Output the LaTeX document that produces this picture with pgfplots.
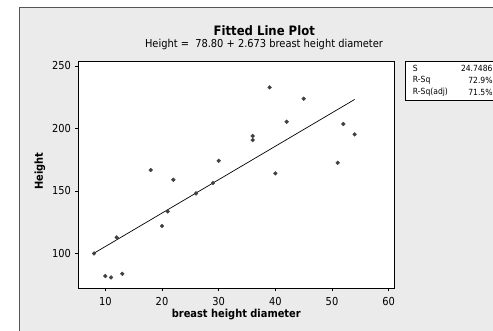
\documentclass[border=0pt]{standalone}
\usepackage{fontspec}
\setmainfont{DejaVu Sans Condensed}
\usepackage{pgfplots}
\pgfplotsset{compat=1.18}
\definecolor{bggrey}{HTML}{EBEBEB}
\definecolor{frame}{HTML}{555555}
\definecolor{ptc}{HTML}{404040}
\begin{document}
\begin{tikzpicture}
\begin{axis}[
  set layers,
  scale only axis, width=316bp, height=226.6bp,
  xmin=5.18, xmax=60.94, ymin=72, ymax=253.2,
  clip=false,
  xtick={10,20,30,40,50,60}, ytick={100,150,200,250},
  tick align=outside, xtick pos=bottom, ytick pos=left,
  major tick length=3bp,
  tick style={black,line width=0.6bp},
  axis line style={black,line width=0.9bp},
  tick label style={font=\fontsize{11}{13}\selectfont},
  /pgf/number format/assume math mode=true,
  xticklabel style={yshift=-2bp},
  yticklabel style={xshift=-0.5bp},
]
\pgfonlayer{axis background}
\fill[white] (axis cs:-8.59,38.67) rectangle (axis cs:78.41,302.67);
\fill[bggrey] (axis cs:-5.15,30) rectangle (axis cs:80,296.8);
\draw[frame,line width=0.9bp] (axis cs:-5.15,30) -- (axis cs:-5.15,296.8) -- (axis cs:80,296.8);
\fill[white] (axis cs:5.18,72) rectangle (axis cs:60.94,253.2);
\endpgfonlayer
\coordinate (BL) at (axis cs:-8.59,38.67);
\coordinate (TR) at (axis cs:78.41,302.67);
\node[font=\bfseries\fontsize{13}{15}\selectfont] at (axis cs:38.05,278.1) {Fitted Line Plot};
\node[font=\fontsize{11}{13}\selectfont] at (axis cs:38.0,266.7) {Height =\ \ 78.80 + 2.673 breast height diameter};
\node[font=\bfseries\fontsize{11}{13}\selectfont] at (axis cs:33.11,51.5) {breast height diameter};
\node[font=\bfseries\fontsize{11}{13}\selectfont,rotate=90] at (axis cs:-1.53,165.9) {Height};
\draw[black,line width=0.7bp,fill=white] (axis cs:63.0,253.3) rectangle (axis cs:81.4,222.7);
\node[anchor=west,font=\fontsize{8.5}{10}\selectfont] at (axis cs:63.67,248.3) {S};
\node[anchor=west,font=\fontsize{8.5}{10}\selectfont] at (axis cs:63.67,238.7) {R-Sq};
\node[anchor=west,font=\fontsize{8.5}{10}\selectfont] at (axis cs:63.67,228.8) {R-Sq(adj)};
\node[anchor=east,inner xsep=0pt,font=\fontsize{8.5}{10}\selectfont] at (axis cs:78.36,248.3) {24.7486};
\node[anchor=east,inner xsep=0pt,font=\fontsize{8.5}{10}\selectfont] at (axis cs:78.36,238.7) {72.9\%};
\node[anchor=east,inner xsep=0pt,font=\fontsize{8.5}{10}\selectfont] at (axis cs:78.36,228.8) {71.5\%};
\addplot[only marks, mark=*, mark size=1.9bp, mark options={fill=ptc,draw=ptc}, color=ptc]
coordinates {
(8,100) (10,81.9) (11,80.8) (12,112.8) (13,83.7) (18,166.7) (20,121.9)
(21,133.6) (22,158.9) (26,148) (29,156.3) (30,174.1) (36,193.9) (36,190.7)
(39,232.8) (40,164) (42,205.3) (45,223.7) (51,172.5) (52,203.5) (54,195.2)
};
\addplot[black, line width=0.7bp] coordinates {(8,100.18) (54,223.14)};
\end{axis}
\pgfresetboundingbox
\useasboundingbox (BL) rectangle (TR);
\end{tikzpicture}
\end{document}
